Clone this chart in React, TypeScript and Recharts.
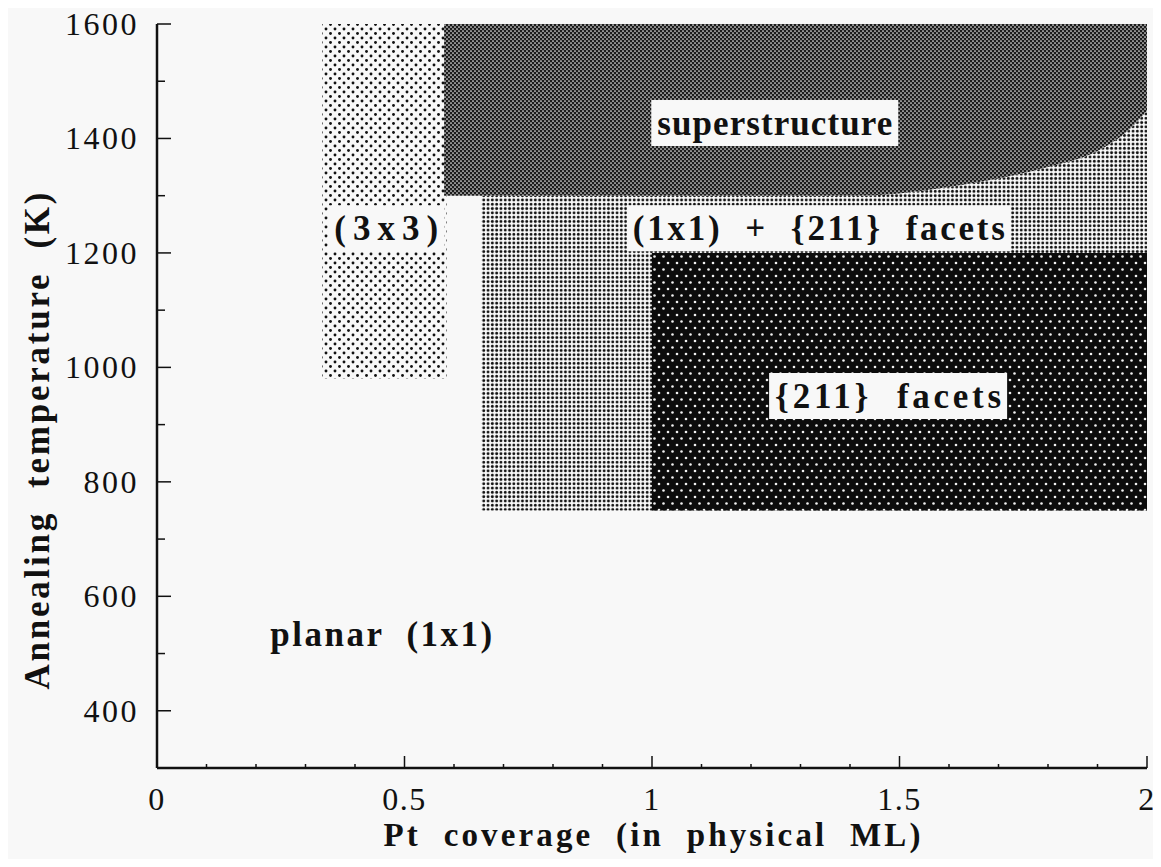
import React, { useLayoutEffect, useRef, useState } from 'react';
import { ComposedChart, Area, XAxis, YAxis, Scatter, Label } from 'recharts';

const FONT = '"Liberation Serif", "Times New Roman", Times, serif';
const BG = '#f8f8f8';
const INK = '#111';

// Axis ticks
const xMajorTicks = [0, 0.5, 1, 1.5, 2];
const xMinorTicks = [0.1, 0.2, 0.3, 0.4, 0.6, 0.7, 0.8, 0.9, 1.1, 1.2, 1.3, 1.4, 1.6, 1.7, 1.8, 1.9];
const yMajorTicks = [400, 600, 800, 1000, 1200, 1400, 1600];
const yMinorTicks = [500, 700, 900, 1100, 1300, 1500];

// (3x3) region
const region3x3X = [0.334, 0.585];
const region3x3T = [980, 1600];

// superstructure region (top edge 1600 K, curved lower boundary)
const superStartX = 0.58;
const superTopT = 1600;
const boundaryX = [1.0, 1.4, 1.5, 1.6, 1.7, 1.8, 1.9, 1.95, 2.0];
const boundaryT = [1300, 1300, 1304, 1315, 1330, 1350, 1378, 1405, 1448];

// (1x1) + {211} facets region
const mixedStartX = 0.655;
const mixedLowT = 750;
const mixedStartTopT = 1300;

// {211} facets region
const facetsX = [1.0, 2.0];
const facetsT = [750, 1200];

// text labels
const labelText = ['superstructure', '(1x1)  +  {211}  facets', '(3x3)', '{211}  facets', 'planar  (1x1)'];
const labelX = [1.248, 1.337, 0.463, 1.477, 0.453];
const labelT = [1427, 1243, 1243, 950, 534];
const labelBoxed = [true, true, true, true, false];

// rendered text widths (style)
const labelTextLength: Record<string, number> = {
  'superstructure': 235,
  '(1x1)  +  {211}  facets': 372,
  '(3x3)': 104,
  '{211}  facets': 226,
  'planar  (1x1)': 222,
};

const data3x3 = region3x3X.map((x) => ({ x, r: [region3x3T[0], region3x3T[1]] }));
const dataSuper = [
  { x: superStartX, r: [boundaryT[0], superTopT] },
  ...boundaryX.map((x, i) => ({ x, r: [boundaryT[i], superTopT] })),
];
const dataMixed = [
  { x: mixedStartX, r: [mixedLowT, mixedStartTopT] },
  ...boundaryX.map((x, i) => ({ x, r: [mixedLowT, boundaryT[i]] })),
];
const dataFacets = facetsX.map((x) => ({ x, r: [facetsT[0], facetsT[1]] }));
const dataLabels = labelText.map((text, i) => ({ x: labelX[i], t: labelT[i], text, boxed: labelBoxed[i] }));

const allXTicks = [...xMajorTicks, ...xMinorTicks].sort((a, b) => a - b);
const allYTicks = [300, ...yMinorTicks, ...yMajorTicks].sort((a, b) => a - b);

const XTick = (props: any) => {
  const { x, y, payload } = props;
  const v = payload.value;
  const major = xMajorTicks.includes(v);
  return (
    <g>
      <line x1={x} x2={x} y1={y} y2={y - (major ? 12 : 4)} stroke={INK} strokeWidth={1.5} />
      {major && (
        <text x={x} y={y + 42} textAnchor="middle" fontFamily={FONT} fontSize={32} fill={INK} letterSpacing={1.5}>
          {String(v)}
        </text>
      )}
    </g>
  );
};

const YTick = (props: any) => {
  const { x, y, payload } = props;
  const v = payload.value;
  const major = yMajorTicks.includes(v);
  if (v === 300) return <g />;
  return (
    <g>
      <line x1={x} x2={x + (major ? 14 : 8)} y1={y} y2={y} stroke={INK} strokeWidth={1.5} />
      {major && (
        <text x={x - 18} y={y} textAnchor="end" dominantBaseline="central" fontFamily={FONT} fontSize={32} fill={INK} letterSpacing={2.5}>
          {String(v)}
        </text>
      )}
    </g>
  );
};

const BoxedLabel = (props: any) => {
  const { cx, cy, payload } = props;
  const ref = useRef<SVGTextElement>(null);
  const [bb, setBb] = useState<{ x: number; w: number } | null>(null);
  useLayoutEffect(() => {
    if (ref.current) {
      const b = ref.current.getBBox();
      if (!bb || Math.abs(bb.x - b.x) > 0.5 || Math.abs(bb.w - b.width) > 0.5) setBb({ x: b.x, w: b.width });
    }
  });
  const len = labelTextLength[payload.text];
  return (
    <g>
      {payload.boxed && bb && <rect x={bb.x - 6} y={cy - 23} width={bb.w + 12} height={46} fill={BG} />}
      <text
        ref={ref}
        x={cx}
        y={cy}
        textAnchor="middle"
        dominantBaseline="central"
        fontFamily={FONT}
        fontWeight="bold"
        fontSize={35}
        fill={INK}
        textLength={len}
        lengthAdjust="spacing"
        style={{ whiteSpace: 'pre' }}
      >
        {payload.text}
      </text>
    </g>
  );
};

const XTitle = (props: any) => {
  const vb = props.viewBox || {};
  return (
    <text
      x={vb.x + vb.width / 2}
      y={vb.y + 78}
      textAnchor="middle"
      fontFamily={FONT}
      fontWeight="bold"
      fontSize={33}
      fill={INK}
      textLength={537}
      lengthAdjust="spacing"
      style={{ whiteSpace: 'pre' }}
    >
      {'Pt  coverage  (in  physical  ML)'}
    </text>
  );
};

const YTitle = (props: any) => {
  const vb = props.viewBox || {};
  const cx = vb.x + 37;
  const cy = vb.y + vb.height / 2 + 45;
  return (
    <text
      x={cx}
      y={cy}
      transform={`rotate(-90 ${cx} ${cy})`}
      textAnchor="middle"
      dominantBaseline="central"
      fontFamily={FONT}
      fontWeight="bold"
      fontSize={35}
      fill={INK}
      textLength={497}
      lengthAdjust="spacing"
      style={{ whiteSpace: 'pre' }}
    >
      {'Annealing  temperature  (K)'}
    </text>
  );
};

export default function App() {
  return (
    <div style={{ background: BG, margin: -8, width: 1161, height: 867, overflow: 'hidden' }}>
      <ComposedChart width={1161} height={867} margin={{ top: 24, right: 14, bottom: 0, left: 0 }}>
        <defs>
          <pattern id="p3x3" patternUnits="userSpaceOnUse" width={9} height={9}>
            <rect width={9} height={9} fill={BG} />
            <circle cx={2} cy={2} r={1.45} fill={INK} />
            <circle cx={6.5} cy={6.5} r={1.45} fill={INK} />
          </pattern>
          <pattern id="pSuper" patternUnits="userSpaceOnUse" width={4} height={4}>
            <rect width={4} height={4} fill="#1c1c1c" />
            <circle cx={1} cy={1} r={0.85} fill="#eeeeee" />
            <circle cx={3} cy={3} r={0.85} fill="#eeeeee" />
          </pattern>
          <pattern id="pMixed" patternUnits="userSpaceOnUse" width={4.3} height={4.3}>
            <rect width={4.3} height={4.3} fill={BG} />
            <circle cx={2.15} cy={2.15} r={1.45} fill={INK} />
          </pattern>
          <pattern id="pFacets" patternUnits="userSpaceOnUse" width={9} height={13}>
            <rect width={9} height={13} fill="#0c0c0c" />
            <circle cx={2} cy={3} r={1.3} fill="#f2f2f2" />
            <circle cx={6.5} cy={9.5} r={1.3} fill="#f2f2f2" />
          </pattern>
        </defs>
        <XAxis
          dataKey="x"
          type="number"
          domain={[0, 2]}
          allowDataOverflow
          ticks={allXTicks}
          interval={0}
          tick={<XTick />}
          tickLine={false}
          tickSize={0}
          tickMargin={0}
          height={99}
          axisLine={{ stroke: INK, strokeWidth: 2.5 }}
        >
          <Label content={<XTitle />} />
        </XAxis>
        <XAxis xAxisId="top" orientation="top" type="number" domain={[0, 2]} tick={false} tickLine={false} height={0} axisLine={{ stroke: INK, strokeWidth: 2.5 }} />
        <YAxis
          type="number"
          domain={[300, 1600]}
          allowDataOverflow
          ticks={allYTicks}
          interval={0}
          tick={<YTick />}
          tickLine={false}
          tickSize={0}
          tickMargin={0}
          width={157}
          axisLine={{ stroke: INK, strokeWidth: 2.5 }}
        >
          <Label content={<YTitle />} />
        </YAxis>
        <YAxis yAxisId="right" orientation="right" type="number" domain={[300, 1600]} tick={false} tickLine={false} width={0} axisLine={{ stroke: INK, strokeWidth: 2.5 }} />
        <Area data={data3x3} dataKey="r" type="linear" stroke="none" fill="url(#p3x3)" fillOpacity={1} isAnimationActive={false} dot={false} activeDot={false} />
        <Area data={dataMixed} dataKey="r" type="monotone" stroke="none" fill="url(#pMixed)" fillOpacity={1} isAnimationActive={false} dot={false} activeDot={false} />
        <Area data={dataSuper} dataKey="r" type="monotone" stroke="none" fill="url(#pSuper)" fillOpacity={1} isAnimationActive={false} dot={false} activeDot={false} />
        <Area data={dataFacets} dataKey="r" type="linear" stroke="none" fill="url(#pFacets)" fillOpacity={1} isAnimationActive={false} dot={false} activeDot={false} />
        <Scatter data={dataLabels} dataKey="t" isAnimationActive={false} shape={(p: any) => <BoxedLabel {...p} />} />
      </ComposedChart>
    </div>
  );
}
